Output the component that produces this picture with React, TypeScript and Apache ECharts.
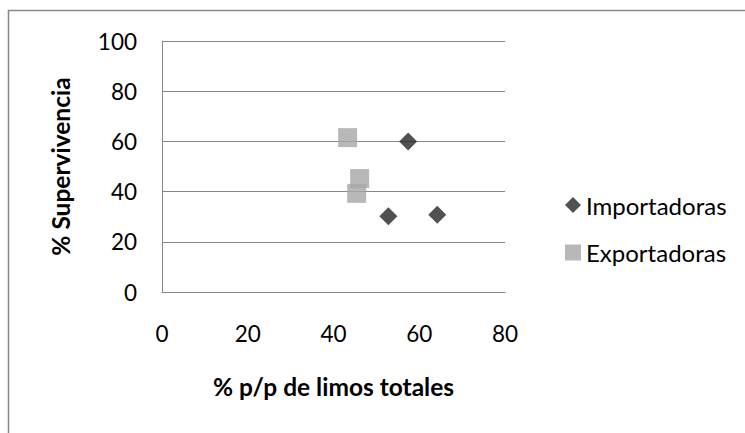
import React, { useEffect, useRef } from "react";
import * as echarts from "echarts";

const importX = [57.4, 52.8, 64.2];
const importY = [60, 30.2, 30.8];
const exportX = [43.3, 46.1, 45.4];
const exportY = [61.5, 45.2, 39.3];
const seriesNames = ["Importadoras", "Exportadoras"];
const xTitle = "% p/p de limos totales";
const yTitle = "% Supervivencia";

const FONT = "Lato";

export default function App() {
  const ref = useRef<HTMLDivElement>(null);
  useEffect(() => {
    document.body.style.margin = "0";
    if (!ref.current) return;
    const chart = echarts.init(ref.current, null, { renderer: "svg" });
    const axisColor = "#868686";
    chart.setOption({
      animation: false,
      backgroundColor: "#fff",
      textStyle: { fontFamily: FONT },
      graphic: [
        {
          type: "rect",
          shape: { x: 8.5, y: 10.5, width: 800, height: 500 },
          style: { fill: "none", stroke: "#888", lineWidth: 1.5 },
          silent: true,
        },
      ],
      grid: { left: 162, top: 41, right: 240, bottom: 141 },
      xAxis: {
        type: "value",
        min: 0,
        max: 80,
        interval: 20,
        name: xTitle,
        nameLocation: "middle",
        nameGap: 82,
        nameTextStyle: { fontFamily: FONT, fontSize: 24.5, fontWeight: "bold", color: "#000" },
        axisLine: { show: true, onZero: false, lineStyle: { color: axisColor, width: 1 } },
        axisTick: { show: false },
        splitLine: { show: false },
        axisLabel: { fontFamily: FONT, fontSize: 22.5, color: "#000", margin: 30 },
      },
      yAxis: {
        type: "value",
        min: 0,
        max: 100,
        interval: 20,
        name: yTitle,
        nameLocation: "middle",
        nameGap: 89,
        nameRotate: 90,
        nameTextStyle: { fontFamily: FONT, fontSize: 24.5, fontWeight: "bold", color: "#000" },
        axisLine: { show: true, lineStyle: { color: axisColor, width: 1 } },
        axisTick: { show: false },
        splitLine: { show: true, lineStyle: { color: axisColor, width: 1 } },
        axisLabel: { fontFamily: FONT, fontSize: 22.5, color: "#000", margin: 25 },
      },
      legend: {
        orient: "vertical",
        left: 560,
        top: 188,
        itemGap: 23.5,
        itemWidth: 16,
        itemHeight: 16,
        textStyle: { fontFamily: FONT, fontSize: 24, lineHeight: 24, color: "#000" },
        data: [
          { name: seriesNames[0], icon: "diamond" },
          { name: seriesNames[1], icon: "rect" },
        ],
      },
      series: [
        {
          name: seriesNames[0],
          type: "scatter",
          symbol: "diamond",
          symbolSize: 18,
          itemStyle: { color: "#262626" },
          data: importX.map((x, i) => [x, importY[i]]),
        },
        {
          name: seriesNames[1],
          type: "scatter",
          symbol: "rect",
          symbolSize: 19,
          itemStyle: { color: "#A6A6A6" },
          data: exportX.map((x, i) => [x, exportY[i]]),
        },
      ],
    });
    return () => chart.dispose();
  }, []);
  return <div ref={ref} style={{ width: 745, height: 433 }} />;
}
